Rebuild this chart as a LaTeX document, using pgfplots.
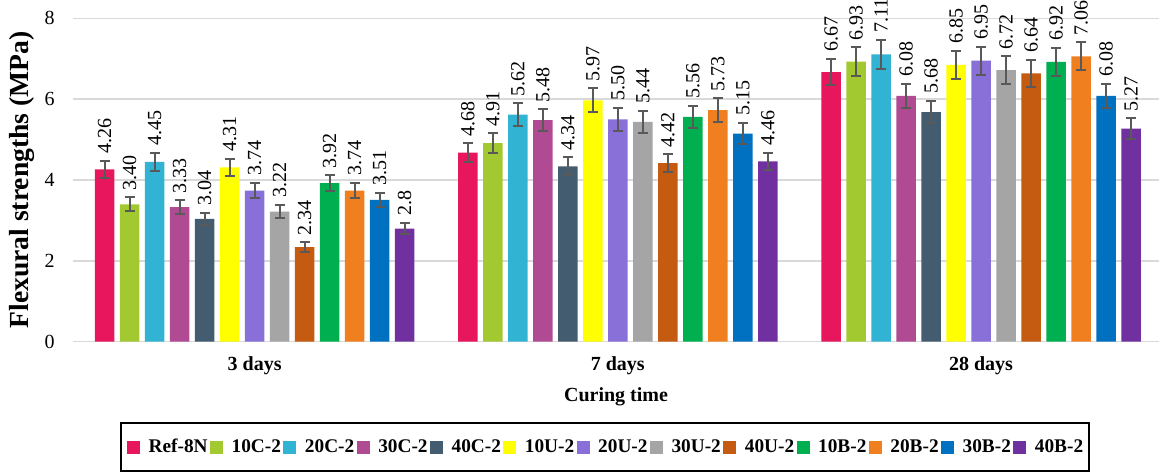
\documentclass[border=0pt]{standalone}
\usepackage{fontspec}
\setmainfont{Liberation Serif}
\usepackage{pgfplots}
\usepackage{pgfplotstable}
\pgfplotsset{compat=1.18}

\definecolor{cRef}{HTML}{E8175D}
\definecolor{cC1}{HTML}{A2C930}
\definecolor{cC2}{HTML}{31B3D3}
\definecolor{cC3}{HTML}{B04A93}
\definecolor{cC4}{HTML}{435C70}
\definecolor{cU1}{HTML}{FFFF00}
\definecolor{cU2}{HTML}{8970D8}
\definecolor{cU3}{HTML}{A5A5A5}
\definecolor{cU4}{HTML}{C55A11}
\definecolor{cB1}{HTML}{00B050}
\definecolor{cB2}{HTML}{F07F20}
\definecolor{cB3}{HTML}{0070C0}
\definecolor{cB4}{HTML}{7030A0}
\definecolor{gridgray}{HTML}{D9D9D9}
\definecolor{errgray}{HTML}{595959}

% x: 0 = 3 days, 1 = 7 days, 2 = 28 days; value columns and their error columns
\pgfplotstableread{
x  r    re   ca   cae  cb   cbe  cc   cce  cd   cde  ua   uae  ub   ube  uc   uce  ud   ude  ba   bae  bb   bbe  bc   bce  bd   bde
0  4.26 0.21 3.40 0.17 4.45 0.22 3.33 0.17 3.04 0.15 4.31 0.22 3.74 0.19 3.22 0.16 2.34 0.12 3.92 0.20 3.74 0.19 3.51 0.18 2.8  0.14
1  4.68 0.23 4.91 0.25 5.62 0.28 5.48 0.27 4.34 0.22 5.97 0.30 5.50 0.28 5.44 0.27 4.42 0.22 5.56 0.28 5.73 0.29 5.15 0.26 4.46 0.22
2  6.67 0.33 6.93 0.35 7.11 0.36 6.08 0.30 5.68 0.28 6.85 0.34 6.95 0.35 6.72 0.34 6.64 0.33 6.92 0.35 7.06 0.35 6.08 0.30 5.27 0.26
}\data

\newcommand{\bplot}[3]{%
  \addplot[fill=#2, draw=none,
    point meta=explicit symbolic,
    visualization depends on={\thisrow{#1e} \as \errv},
    nodes near coords,
    nodes near coords style={shift={(axis direction cs:0,\errv)}, rotate=90, anchor=west,
      font=\fontsize{10}{12}\selectfont, text=black},
    error bars/.cd, y dir=both, y explicit,
      error bar style={draw=errgray, line width=1pt},
      error mark options={rotate=90, mark size=2.5pt, draw=errgray, line width=1pt}]
    table[x=x, y=#1, y error=#1e, meta=#1] {\data};
  \addlegendentry{#3}
}

\begin{document}
\begin{tikzpicture}
\useasboundingbox (-36.5pt,-66.65pt) rectangle (543pt,170.85pt);
\begin{axis}[
  at={(0,0)}, anchor=south west,
  scale only axis, width=543pt, height=161.7pt,
  ybar=2.75pt, bar width=9.75pt,
  xmin=-0.5, xmax=2.49, ymin=0, ymax=8,
  xtick={0,1,2}, xticklabels={3 days,7 days,28 days},
  ytick={0,2,4,6,8},
  ymajorgrids, grid style={draw=gridgray, line width=0.75pt},
  axis line style={draw=none},
  major tick length=0pt,
  /pgf/number format/assume math mode=true,
  yticklabel style={font=\fontsize{10}{12}\selectfont, xshift=-5.7pt},
  xticklabel style={font=\fontsize{10}{12}\selectfont\bfseries, yshift=-4pt},
  ylabel={Flexural strengths (MPa)},
  ylabel style={at={(axis description cs:-0.047,0.5)}, anchor=center,
    font=\fontsize{13.8}{16}\selectfont\bfseries},
  xlabel={Curing time},
  xlabel style={at={(axis description cs:0.5,-0.17)}, anchor=center,
    font=\fontsize{10}{12}\selectfont\bfseries},
  legend columns=13,
  legend image code/.code={\fill[#1] (0pt,-3.25pt) rectangle (6.5pt,3.25pt);},
  legend style={at={(0.49,-0.326)}, anchor=center, draw=black, line width=1pt,
    inner xsep=3pt, inner ysep=7pt,
    font=\fontsize{9.65}{11}\selectfont\bfseries,
    /tikz/every even column/.append style={column sep=1.2pt},
    /tikz/every odd column/.append style={column sep=4.3pt},
    nodes={inner xsep=0pt, inner ysep=1pt}},
]
\bplot{r}{cRef}{Ref-8N}
\bplot{ca}{cC1}{10C-2}
\bplot{cb}{cC2}{20C-2}
\bplot{cc}{cC3}{30C-2}
\bplot{cd}{cC4}{40C-2}
\bplot{ua}{cU1}{10U-2}
\bplot{ub}{cU2}{20U-2}
\bplot{uc}{cU3}{30U-2}
\bplot{ud}{cU4}{40U-2}
\bplot{ba}{cB1}{10B-2}
\bplot{bb}{cB2}{20B-2}
\bplot{bc}{cB3}{30B-2}
\bplot{bd}{cB4}{40B-2}
\end{axis}
\end{tikzpicture}
\end{document}
